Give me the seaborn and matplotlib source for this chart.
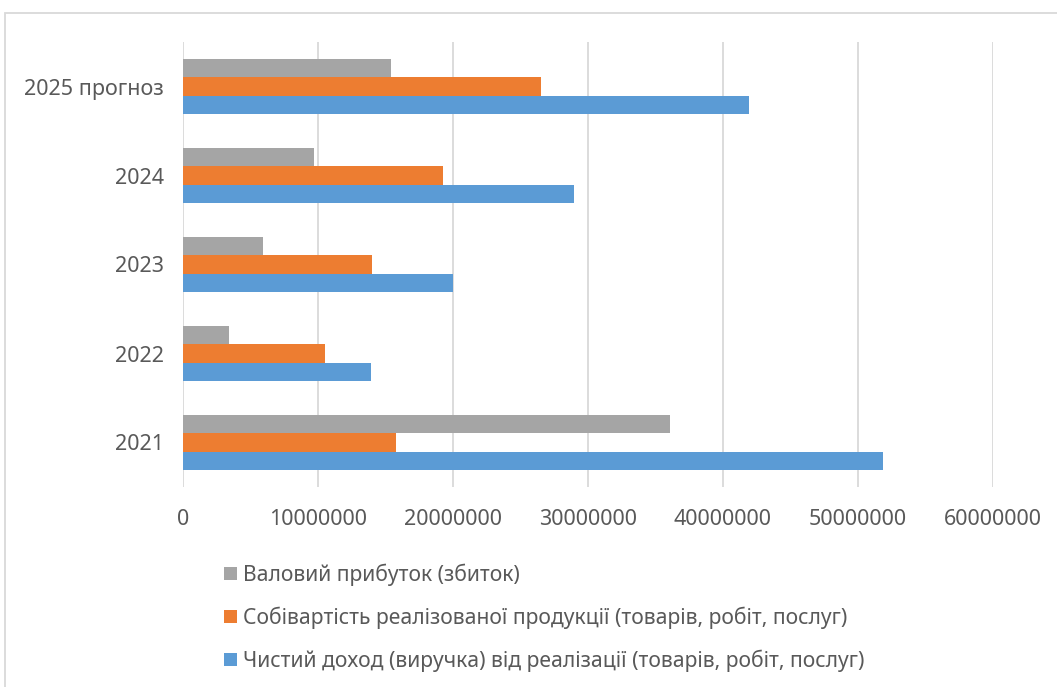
import numpy as np
import pandas as pd
import seaborn as sns
import matplotlib.pyplot as plt
from matplotlib.patches import Patch, Rectangle

# Financial indicators by year, UAH
years = ['2021', '2022', '2023', '2024', '2025 прогноз']
revenue = [51830000, 13900000, 19980000, 28960000, 41900000]
cost_of_sales = [15780000, 10520000, 13970000, 19260000, 26500000]
gross_profit = [36050000, 3380000, 5960000, 9700000, 15400000]

series_names = [
    'Валовий прибуток (збиток)',
    'Собівартість реалізованої продукції (товарів, робіт, послуг)',
    'Чистий доход (виручка) від реалізації (товарів, робіт, послуг)',
]
series_colors = ['#a5a5a5', '#ed7d31', '#5b9bd5']

x_ticks = [0, 10000000, 20000000, 30000000, 40000000, 50000000, 60000000]

df = pd.DataFrame({
    'year': years * 3,
    'series': [series_names[0]] * 5 + [series_names[1]] * 5 + [series_names[2]] * 5,
    'value': gross_profit + cost_of_sales + revenue,
})

sns.set_theme(style='white')
plt.rcParams['font.family'] = ['Noto Sans', 'DejaVu Sans']
text_color = '#595959'

W, H = 1057, 687
fig = plt.figure(figsize=(W / 100, H / 100), dpi=100)
ax = fig.add_axes([183 / W, 1 - 487 / H, (993 - 183) / W, (487 - 42) / H])

sns.barplot(
    data=df, y='year', x='value', hue='series',
    order=years[::-1], hue_order=series_names,
    palette=series_colors, orient='h', width=0.625,
    saturation=1, linewidth=0, ax=ax, legend=False,
)

ax.set_xlim(0, 60000000)
ax.set_xticks(x_ticks)
ax.set_xticklabels([str(t) for t in x_ticks])
ax.set_xlabel('')
ax.set_ylabel('')
for s in ax.spines.values():
    s.set_visible(False)
ax.xaxis.grid(True, color='#d9d9d9', linewidth=1.3)
ax.yaxis.grid(False)
ax.set_axisbelow(True)
ax.tick_params(axis='x', length=0, pad=16, labelsize=15.5, labelcolor=text_color)
ax.tick_params(axis='y', length=0, pad=14, labelsize=15.5, labelcolor=text_color)

handles = [Patch(facecolor=c, edgecolor='none') for c in series_colors]
fig.legend(
    handles, series_names,
    loc='upper left', bbox_to_anchor=(215.5 / W, 1 - 555 / H),
    frameon=False, fontsize=15.2, labelcolor=text_color,
    handlelength=0.61, handleheight=0.61, handletextpad=0.3,
    labelspacing=0.98, borderaxespad=0,
)

# light outline around the chart area
fig.add_artist(Rectangle((5 / W, -0.1), 1.2, 1 - 13 / H + 0.1,
                         transform=fig.transFigure, fill=False,
                         edgecolor='#d9d9d9', linewidth=1.3))

fig.savefig('out.png', dpi=100)
